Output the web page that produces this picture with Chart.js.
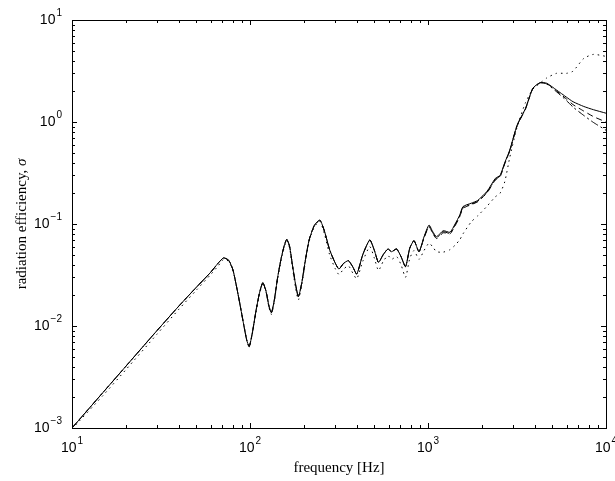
<!DOCTYPE html>
<html>
<head>
<meta charset="utf-8">
<script src="https://cdn.jsdelivr.net/npm/chart.js@4"></script>
<style>
  html, body { margin: 0; padding: 0; background: #fff; }
  #wrap { width: 615px; height: 481px; }
</style>
</head>
<body>
<div id="wrap"><canvas id="chart" width="615" height="481"></canvas></div>
<script>
// frequency [Hz]
const freq = [
    10, 15, 20, 30, 40, 50, 60, 66, 71, 76,
    80, 82, 85, 88, 92, 96, 99, 103, 108, 113,
    118, 123, 128, 132, 137, 143, 150, 156, 161, 167,
    173, 180, 187, 195, 205, 215, 230, 247, 262, 280,
    300, 316, 335, 357, 378, 398, 430, 471, 500, 527,
    560, 596, 624, 666, 705, 748, 790, 835, 890, 950,
    1013, 1060, 1117, 1218, 1329, 1420, 1508, 1572, 1750, 1900,
    2150, 2390, 2540, 2700, 2880, 3170, 3530, 3880, 4260, 4640,
    5270, 6000, 6530, 7500, 8500, 10000
];

// radiation efficiency, solid line
const sigmaSolid = [
    0.001, 0.00225, 0.004, 0.009, 0.0158, 0.024, 0.0335, 0.041, 0.0465, 0.044,
    0.036, 0.030, 0.022, 0.016, 0.0105, 0.0072, 0.0063, 0.0085, 0.014, 0.021,
    0.0266, 0.022, 0.0155, 0.0135, 0.018, 0.030, 0.047, 0.062, 0.0708, 0.060,
    0.040, 0.026, 0.0194, 0.026, 0.045, 0.070, 0.097, 0.109, 0.085, 0.056,
    0.042, 0.0362, 0.041, 0.0437, 0.038, 0.0323, 0.050, 0.0697, 0.055, 0.042,
    0.050, 0.0569, 0.0535, 0.0569, 0.048, 0.0382, 0.058, 0.0686, 0.0535, 0.075,
    0.0977, 0.085, 0.075, 0.086, 0.083, 0.100, 0.1225, 0.148, 0.160, 0.170,
    0.210, 0.280, 0.300, 0.400, 0.531, 0.935, 1.36, 2.14, 2.43, 2.40,
    2.06, 1.75, 1.58, 1.42, 1.32, 1.22
];

// dashed line
const sigmaDashed = [
    0.001, 0.00225, 0.004, 0.009, 0.0158, 0.024, 0.0335, 0.041, 0.0465, 0.044,
    0.036, 0.030, 0.022, 0.016, 0.0105, 0.0072, 0.0063, 0.0085, 0.014, 0.021,
    0.0266, 0.022, 0.0155, 0.0135, 0.018, 0.030, 0.047, 0.062, 0.0708, 0.060,
    0.040, 0.026, 0.0194, 0.026, 0.045, 0.070, 0.097, 0.109, 0.085, 0.056,
    0.042, 0.0362, 0.041, 0.0437, 0.038, 0.0323, 0.050, 0.0697, 0.055, 0.042,
    0.050, 0.0569, 0.0535, 0.0569, 0.048, 0.0382, 0.058, 0.0686, 0.0535, 0.073,
    0.094, 0.082, 0.072, 0.082, 0.080, 0.096, 0.118, 0.142, 0.155, 0.165,
    0.203, 0.270, 0.290, 0.390, 0.520, 0.920, 1.34, 2.12, 2.42, 2.38,
    2.02, 1.68, 1.48, 1.28, 1.13, 1.00
];

// dash-dot line
const sigmaDashDot = [
    0.001, 0.00225, 0.004, 0.009, 0.0158, 0.024, 0.0335, 0.041, 0.0465, 0.044,
    0.036, 0.030, 0.022, 0.016, 0.0105, 0.0072, 0.0063, 0.0085, 0.014, 0.021,
    0.0266, 0.022, 0.0155, 0.0135, 0.018, 0.030, 0.047, 0.062, 0.0708, 0.060,
    0.040, 0.026, 0.0194, 0.026, 0.045, 0.070, 0.097, 0.109, 0.085, 0.056,
    0.042, 0.0362, 0.041, 0.0437, 0.038, 0.0323, 0.050, 0.0697, 0.055, 0.042,
    0.050, 0.0569, 0.0535, 0.0569, 0.048, 0.0382, 0.058, 0.0686, 0.0535, 0.074,
    0.095, 0.083, 0.073, 0.084, 0.081, 0.098, 0.120, 0.145, 0.157, 0.167,
    0.206, 0.275, 0.295, 0.395, 0.525, 0.930, 1.35, 2.13, 2.42, 2.36,
    1.98, 1.62, 1.40, 1.16, 0.99, 0.83
];

// dotted line
const sigmaDotted = [
    0.00098, 0.0021, 0.0037, 0.0083, 0.0147, 0.0225, 0.0318, 0.0385, 0.045, 0.043,
    0.035, 0.030, 0.022, 0.016, 0.0105, 0.0072, 0.0062, 0.0083, 0.0135, 0.0205,
    0.026, 0.0215, 0.015, 0.013, 0.0175, 0.029, 0.045, 0.060, 0.069, 0.058,
    0.038, 0.024, 0.018, 0.025, 0.043, 0.068, 0.094, 0.106, 0.080, 0.050,
    0.037, 0.032, 0.036, 0.039, 0.033, 0.029, 0.043, 0.060, 0.046, 0.035,
    0.043, 0.049, 0.045, 0.048, 0.040, 0.030, 0.046, 0.055, 0.045, 0.055,
    0.065, 0.060, 0.0535, 0.053, 0.056, 0.062, 0.070, 0.080, 0.105, 0.120,
    0.150, 0.185, 0.200, 0.260, 0.450, 0.900, 1.55, 2.10, 2.40, 2.70,
    3.00, 3.00, 3.15, 4.20, 4.60, 4.40
];

// tick labels: powers of ten
const xTickExps = [1, 2, 3, 4];
const yTickExps = [-3, -2, -1, 0, 1];

function toPoints(ys) {
    return freq.map((f, i) => ({ x: f, y: ys[i] }));
}

// frame, inward ticks and 10^n labels, drawn like a matlab box
const matlabAxes = {
    id: 'matlabAxes',
    afterDraw(chart) {
        const { ctx, chartArea: a, scales } = chart;
        const xs = scales.x, ys = scales.y;
        ctx.save();
        ctx.strokeStyle = '#000';
        ctx.lineWidth = 1;
        ctx.strokeRect(a.left + 0.5, a.top + 0.5, a.right - a.left, a.bottom - a.top);

        ctx.beginPath();
        // x ticks
        for (let e = 1; e <= 4; e++) {
            for (let m = 1; m <= 9; m++) {
                const v = m * Math.pow(10, e);
                if (v > 10000) break;
                const px = Math.round(xs.getPixelForValue(v)) + 0.5;
                const len = m === 1 ? 5 : 3;
                ctx.moveTo(px, a.bottom); ctx.lineTo(px, a.bottom - len);
                ctx.moveTo(px, a.top); ctx.lineTo(px, a.top + len);
            }
        }
        // y ticks
        for (let e = -3; e <= 1; e++) {
            for (let m = 1; m <= 9; m++) {
                const v = m * Math.pow(10, e);
                if (v > 10) break;
                const py = Math.round(ys.getPixelForValue(v)) + 0.5;
                const len = m === 1 ? 5 : 3;
                ctx.moveTo(a.left, py); ctx.lineTo(a.left + len, py);
                ctx.moveTo(a.right, py); ctx.lineTo(a.right - len, py);
            }
        }
        ctx.stroke();

        const baseFont = '14px "Liberation Sans", Arial, sans-serif';
        const expFont = '10px "Liberation Sans", Arial, sans-serif';
        ctx.fillStyle = '#000';
        ctx.textBaseline = 'middle';
        ctx.textAlign = 'left';

        // y labels
        yTickExps.forEach(e => {
            const py = ys.getPixelForValue(Math.pow(10, e));
            const exp = e < 0 ? '\u2212' + Math.abs(e) : String(e);
            ctx.font = baseFont;
            const w10 = ctx.measureText('10').width;
            ctx.font = expFont;
            const wExp = ctx.measureText(exp).width;
            const right = a.left - 10;
            const left = right - w10 - wExp - 1;
            ctx.font = baseFont;
            ctx.fillText('10', left, py);
            ctx.font = expFont;
            ctx.fillText(exp, left + w10 + 1, py - 7);
        });

        // x labels
        xTickExps.forEach(e => {
            const px = xs.getPixelForValue(Math.pow(10, e));
            const exp = String(e);
            ctx.font = baseFont;
            const w10 = ctx.measureText('10').width;
            ctx.font = expFont;
            const wExp = ctx.measureText(exp).width;
            const left = px - (w10 + wExp + 1) / 2;
            const py = a.bottom + 20;
            ctx.font = baseFont;
            ctx.fillText('10', left, py);
            ctx.font = expFont;
            ctx.fillText(exp, left + w10 + 1, py - 7);
        });

        // axis titles
        const serif = '"Liberation Serif", "Times New Roman", serif';
        ctx.font = '15px ' + serif;
        ctx.textAlign = 'center';
        ctx.fillText('frequency [Hz]', (a.left + a.right) / 2, a.bottom + 40);

        // y title with italic sigma
        ctx.translate(22, (a.top + a.bottom) / 2);
        ctx.rotate(-Math.PI / 2);
        ctx.textAlign = 'left';
        const txt = 'radiation efficiency, ';
        ctx.font = '15px ' + serif;
        const wTxt = ctx.measureText(txt).width;
        ctx.font = 'italic 15px ' + serif;
        const wSig = ctx.measureText('\u03c3').width;
        const x0 = -(wTxt + wSig) / 2;
        ctx.font = '15px ' + serif;
        ctx.fillText(txt, x0, 0);
        ctx.font = 'italic 15px ' + serif;
        ctx.fillText('\u03c3', x0 + wTxt, 0);
        ctx.restore();
    }
};

const lineStyle = {
    borderColor: '#000',
    borderWidth: 1,
    pointRadius: 0,
    tension: 0.2,
    fill: false
};

new Chart(document.getElementById('chart').getContext('2d'), {
    type: 'line',
    data: {
        datasets: [
            { ...lineStyle, label: 'solid', data: toPoints(sigmaSolid) },
            { ...lineStyle, label: 'dashed', data: toPoints(sigmaDashed), borderDash: [6, 4] },
            { ...lineStyle, label: 'dash-dot', data: toPoints(sigmaDashDot), borderDash: [8, 3, 2, 3] },
            { ...lineStyle, label: 'dotted', data: toPoints(sigmaDotted), borderDash: [1.5, 4] }
        ]
    },
    options: {
        responsive: false,
        devicePixelRatio: 1,
        animation: false,
        layout: {
            padding: { left: 72, right: 9, top: 20, bottom: 53 }
        },
        plugins: {
            legend: { display: false },
            tooltip: { enabled: false }
        },
        scales: {
            x: { type: 'logarithmic', min: 10, max: 10000, display: false },
            y: { type: 'logarithmic', min: 0.001, max: 10, display: false }
        }
    },
    plugins: [matlabAxes]
});
</script>
</body>
</html>
